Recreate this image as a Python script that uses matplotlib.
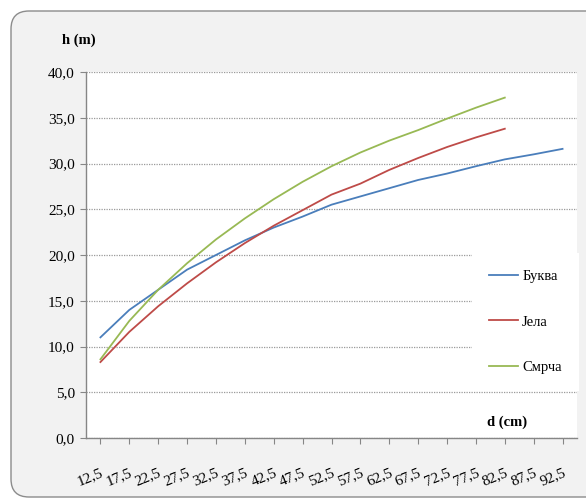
import matplotlib
matplotlib.use('Agg')
import matplotlib.pyplot as plt
import numpy as np
from matplotlib.patches import FancyBboxPatch
from matplotlib.transforms import IdentityTransform

# diameter classes (cm)
d_labels = ['12,5', '17,5', '22,5', '27,5', '32,5', '37,5', '42,5', '47,5', '52,5',
            '57,5', '62,5', '67,5', '72,5', '77,5', '82,5', '87,5', '92,5']

# heights (m)
bukva = [11.0, 14.0, 16.2, 18.4, 20.0, 21.6, 23.0, 24.2, 25.5, 26.4, 27.3, 28.2,
         28.9, 29.7, 30.45, 31.0, 31.6]
jela = [8.3, 11.6, 14.4, 16.9, 19.2, 21.3, 23.2, 24.9, 26.6, 27.8, 29.3, 30.6,
        31.8, 32.85, 33.8]
smrca = [8.6, 12.8, 16.2, 19.1, 21.7, 24.0, 26.1, 28.0, 29.7, 31.2, 32.5, 33.65,
         34.9, 36.1, 37.2]

series = [('Буква', bukva, '#4A7EBB'),
          ('Јела', jela, '#BE4B48'),
          ('Смрча', smrca, '#98B954')]

plt.rcParams['font.family'] = ['Liberation Serif', 'DejaVu Serif']

fig = plt.figure(figsize=(5.86, 4.99), dpi=100)
fig.patch.set_facecolor('white')

# rounded grey chart frame (pixel coords)
frame = FancyBboxPatch((11, 2), 620, 486, boxstyle='round,pad=0,rounding_size=18',
                       transform=IdentityTransform(), facecolor='#f2f2f2',
                       edgecolor='#8c8c8c', linewidth=1.0, zorder=-5)
fig.patches.append(frame)

ax = fig.add_axes([86/586, 1 - 438/499, (577 - 86)/586, (438 - 72)/499])
ax.set_facecolor('white')
ax.set_zorder(1)

for name, vals, col in series:
    ax.plot(np.arange(len(vals)), vals, color=col, lw=1.3, label=name, zorder=3)

ax.set_xlim(-0.5, len(d_labels) - 0.5)
ax.set_ylim(0, 40)
ax.set_yticks(np.arange(0, 41, 5))
ax.set_yticklabels([f'{v:.1f}'.replace('.', ',') for v in np.arange(0, 41, 5)],
                   fontsize=11)
ax.set_xticks(np.arange(len(d_labels)))
ax.set_xticklabels(d_labels, fontsize=11, rotation=22, ha='right',
                   rotation_mode='anchor', va='top')

ax.grid(axis='y', color='#9a9a9a', linestyle=(0, (1, 1)), linewidth=0.9, zorder=1)
ax.set_axisbelow(True)
for s in ['top', 'right']:
    ax.spines[s].set_visible(False)
for s in ['left', 'bottom']:
    ax.spines[s].set_color('#868686')
    ax.spines[s].set_linewidth(1.0)
ax.tick_params(axis='y', direction='out', length=4, color='#868686', pad=4)
ax.tick_params(axis='x', direction='out', length=4, color='#868686', pad=16)

leg = ax.legend(loc='center left', bbox_to_anchor=(0.786, 0.317), borderaxespad=0,
                frameon=True, facecolor='white', edgecolor='none', framealpha=1,
                fontsize=10.5, handlelength=1.95, handletextpad=0.3,
                labelspacing=2.2, borderpad=1.2, fancybox=False)
leg.set_zorder(5)

fig.text(62/586, 1 - 40/499, 'h (m)', fontsize=10.5, fontweight='bold',
         ha='left', va='center')
fig.text(487/586, 1 - 422/499, 'd (cm)', fontsize=10.5, fontweight='bold',
         ha='left', va='center', zorder=10)

fig.savefig('out.png', dpi=100)
